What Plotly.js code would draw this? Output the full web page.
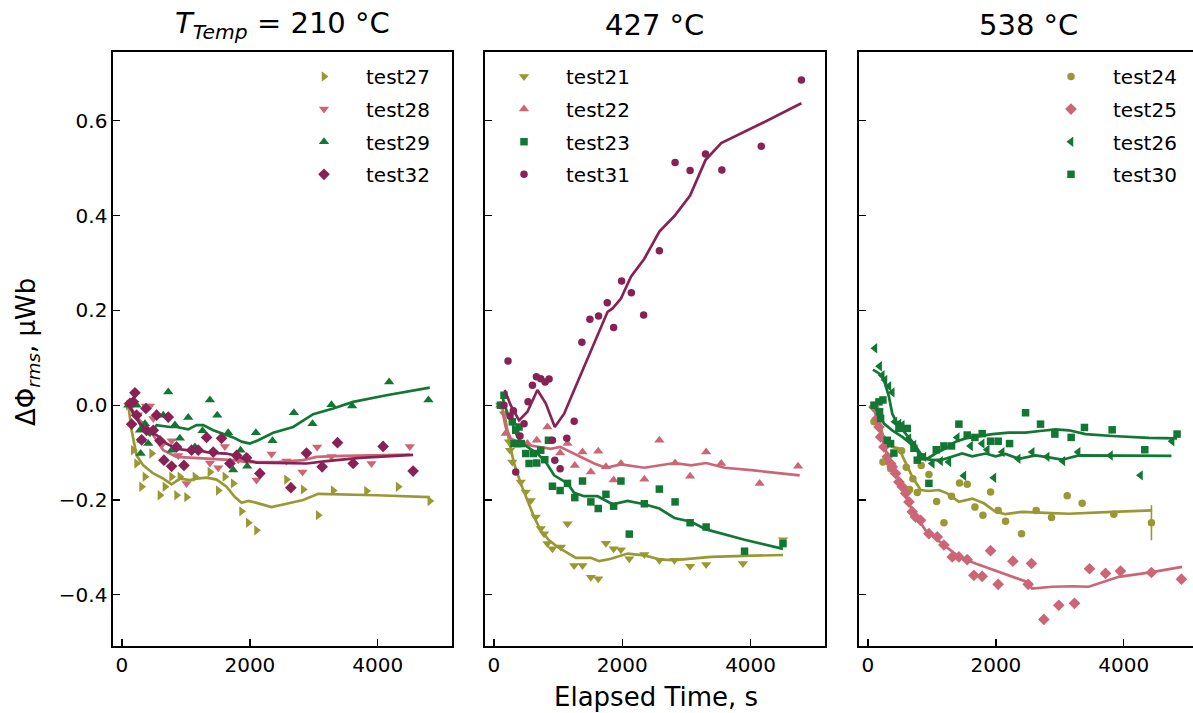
<!DOCTYPE html>
<html><head><meta charset="utf-8">
<script src="https://cdn.plot.ly/plotly-3.0.1.min.js"></script>
<style>html,body{margin:0;padding:0;overflow:hidden;background:#fff}</style>
</head><body><div id="chart" style="width:1200px;height:713px"></div>
<script>
// ---------- tick labels ----------
const xTickVals = [0, 2000, 4000];
const xTickText = ['0', '2000', '4000'];
const yTickVals = [-0.4, -0.2, 0.0, 0.2, 0.4, 0.6];
const yTickText = ['\u22120.4', '\u22120.2', '0.0', '0.2', '0.4', '0.6'];

// ---------- panel titles ----------
const panelTitles = ['<i>T</i><sub><i>Temp</i></sub> = 210 °C', '427 °C', '538 °C'];

// ---------- 210 °C ----------
const test27_t = [100,177,229,307,359,464,594,672,776,854,906,1010,1141,1375,1505,1609,1740,1870,1974,2104,2573,2833,3068,3302,3823,4318,4813];
const test27_v = [0.0,-0.095,-0.123,-0.172,-0.151,-0.102,-0.190,-0.172,-0.151,-0.190,-0.151,-0.194,-0.151,-0.141,-0.180,-0.151,-0.165,-0.224,-0.248,-0.264,-0.157,-0.178,-0.232,-0.180,-0.181,-0.172,-0.202];
const test27_fit_t = [99,151,229,333,490,646,776,906,1063,1167,1323,1479,1635,1766,1870,1974,2104,2339,2573,2833,3068,3458,3979,4813];
const test27_fit_v = [0.0,-0.053,-0.106,-0.127,-0.144,-0.155,-0.167,-0.155,-0.158,-0.155,-0.153,-0.157,-0.172,-0.194,-0.206,-0.202,-0.206,-0.215,-0.208,-0.200,-0.187,-0.188,-0.190,-0.194];

const test28_t = [100,250,375,438,490,620,776,880,1010,1375,1505,1609,1818,2104,2339,2573,2823,3052,3276,3901,4500];
const test28_v = [0.0,-0.020,-0.002,-0.002,-0.028,-0.084,-0.075,-0.106,-0.165,-0.122,-0.132,-0.087,-0.115,-0.158,-0.103,-0.118,-0.141,-0.088,-0.108,-0.123,-0.087];
const test28_fit_t = [99,229,438,646,854,1167,1479,1740,1948,2417,2833,3042,3458,4500];
const test28_fit_v = [0.004,-0.025,-0.053,-0.095,-0.109,-0.111,-0.113,-0.116,-0.120,-0.120,-0.116,-0.109,-0.107,-0.104];

const test29_t = [100,229,281,292,307,359,411,542,646,724,776,828,906,1036,1141,1260,1375,1490,1661,1740,1854,1958,2094,2354,2688,2979,3276,3599,4177,4792];
const test29_v = [0.0,0.0,-0.053,-0.102,-0.074,-0.039,-0.081,-0.018,-0.021,0.028,-0.095,-0.042,-0.070,-0.026,-0.088,-0.054,0.011,-0.021,-0.058,-0.137,-0.095,-0.129,-0.058,-0.075,-0.016,-0.039,0.001,-0.002,0.049,0.011];
const test29_fit_t = [99,229,333,438,542,750,854,1036,1167,1271,1427,1583,1740,1870,2000,2130,2365,2677,2990,3302,3615,4135,4813];
const test29_fit_v = [0.0,-0.025,-0.053,-0.063,-0.042,-0.046,-0.046,-0.051,-0.042,-0.042,-0.053,-0.061,-0.068,-0.077,-0.081,-0.074,-0.058,-0.046,-0.019,-0.007,0.007,0.021,0.037];

const test32_t = [125,151,177,203,229,307,375,385,490,542,594,656,724,776,854,969,1089,1193,1323,1427,1557,1688,1792,1948,2156,2641,2885,3130,3370,3615,4083,4552];
const test32_v = [0.004,-0.040,0.007,0.026,-0.021,-0.073,-0.007,-0.053,-0.053,-0.021,-0.075,-0.116,-0.025,-0.129,-0.088,-0.127,-0.095,-0.095,-0.068,-0.099,-0.070,-0.123,-0.106,-0.111,-0.144,-0.174,-0.101,-0.130,-0.079,-0.123,-0.087,-0.139];
const test32_fit_t = [99,177,281,385,542,698,854,1010,1167,1323,1479,1635,1792,1948,2104,2417,2885,3198,3719,4552];
const test32_fit_v = [0.004,-0.018,-0.039,-0.053,-0.063,-0.081,-0.092,-0.095,-0.094,-0.099,-0.101,-0.102,-0.107,-0.116,-0.121,-0.122,-0.123,-0.118,-0.111,-0.105];

// ---------- 427 °C ----------
const test21_t = [100,156,234,250,286,417,495,573,651,729,781,833,911,1042,1146,1250,1380,1510,1625,1745,1865,1979,2109,2344,2578,2813,3057,3307,3880,4505];
const test21_v = [0.0,-0.018,-0.077,-0.095,-0.120,-0.162,-0.183,-0.201,-0.236,-0.260,-0.271,-0.292,-0.303,-0.299,-0.250,-0.338,-0.338,-0.363,-0.366,-0.291,-0.303,-0.305,-0.324,-0.315,-0.327,-0.327,-0.340,-0.336,-0.334,-0.284];
const test21_fit_t = [130,182,234,313,417,521,625,729,859,990,1146,1276,1510,1641,1823,2083,2344,2604,2813,3073,3385,3906,4505];
const test21_fit_v = [-0.007,-0.032,-0.074,-0.123,-0.165,-0.201,-0.236,-0.264,-0.285,-0.299,-0.312,-0.322,-0.322,-0.329,-0.324,-0.313,-0.317,-0.326,-0.327,-0.324,-0.320,-0.318,-0.316];

const test22_t = [100,182,521,667,833,1031,1146,1260,1380,1510,1625,1745,1865,1979,2344,2578,2823,3057,3307,3542,4141,4740];
const test22_v = [0.0,-0.060,-0.081,-0.074,-0.046,-0.101,-0.081,-0.127,-0.099,-0.141,-0.097,-0.130,-0.158,-0.123,-0.156,-0.074,-0.122,-0.150,-0.099,-0.123,-0.165,-0.129];
const test22_fit_t = [130,182,260,365,521,677,885,1031,1198,1406,1563,1745,1979,2344,2813,3073,3307,3594,4010,4766];
const test22_fit_v = [-0.011,-0.046,-0.070,-0.077,-0.084,-0.088,-0.092,-0.088,-0.099,-0.113,-0.123,-0.132,-0.125,-0.132,-0.122,-0.127,-0.122,-0.132,-0.137,-0.148];

const test23_t = [100,156,286,313,339,365,391,427,495,547,615,667,729,792,849,911,1031,1146,1260,1380,1510,1625,1745,1865,1979,2109,2344,2578,2823,3057,3307,3906,4505];
const test23_v = [0.0,0.021,-0.035,-0.081,-0.053,-0.081,-0.046,-0.081,-0.102,-0.123,-0.102,-0.122,-0.095,-0.115,-0.074,-0.171,-0.180,-0.165,-0.195,-0.160,-0.204,-0.218,-0.188,-0.213,-0.160,-0.272,-0.208,-0.177,-0.204,-0.248,-0.257,-0.308,-0.292];
const test23_fit_t = [130,208,286,365,443,521,677,807,938,1146,1250,1406,1615,1849,2083,2344,2578,2813,3073,3307,3906,4505];
const test23_fit_v = [0.018,-0.018,-0.039,-0.067,-0.081,-0.088,-0.102,-0.120,-0.148,-0.165,-0.185,-0.192,-0.192,-0.209,-0.202,-0.209,-0.218,-0.238,-0.246,-0.262,-0.284,-0.303];

const test31_t = [156,219,250,302,339,406,469,531,599,661,729,797,859,911,948,1031,1135,1250,1370,1495,1630,1766,1865,1990,2141,2333,2578,2823,3057,3297,3552,4167,4792];
const test31_v = [0.0,0.093,-0.023,-0.012,-0.141,-0.065,-0.039,0.007,0.042,0.060,0.056,0.049,0.055,-0.074,-0.116,-0.134,-0.070,-0.034,0.133,0.181,0.188,0.216,0.164,0.262,0.237,0.190,0.326,0.512,0.495,0.530,0.496,0.546,0.686];
const test31_fit_t = [167,260,391,521,677,807,948,1094,1250,1380,1563,1771,1849,1979,2135,2344,2578,2813,3057,3297,3542,4167,4792];
const test31_fit_v = [0.032,0.0,-0.032,-0.014,0.032,0.004,-0.046,-0.018,0.032,0.074,0.130,0.197,0.204,0.225,0.271,0.309,0.366,0.399,0.442,0.517,0.553,0.594,0.637];

// ---------- 538 °C ----------
const test24_t = [94,234,354,526,599,651,703,771,833,953,1073,1188,1307,1432,1552,1672,1797,1917,2036,2151,2401,2630,2870,3115,3349,3844,4432];
const test24_v = [-0.035,-0.120,-0.134,-0.096,-0.131,-0.178,-0.155,-0.184,-0.127,-0.146,-0.203,-0.248,-0.192,-0.164,-0.167,-0.215,-0.232,-0.183,-0.222,-0.245,-0.271,-0.222,-0.237,-0.191,-0.207,-0.230,-0.248];
const test24_err = [0,0,0,0,0,0,0,0,0,0,0,0,0,0,0,0,0,0,0,0,0,0,0,0,0,0,0.037];
const test24_fit_t = [94,172,250,380,484,589,693,823,953,1109,1240,1422,1630,1813,1995,2151,2411,2776,3141,3818,4443];
const test24_fit_v = [0.0,-0.028,-0.074,-0.088,-0.091,-0.123,-0.151,-0.179,-0.181,-0.179,-0.186,-0.204,-0.197,-0.207,-0.225,-0.230,-0.225,-0.227,-0.229,-0.225,-0.222];

const test25_t = [94,146,172,198,250,302,354,380,432,484,536,589,641,693,745,823,953,1083,1188,1318,1422,1552,1656,1786,1917,2036,2266,2505,2557,2750,2984,3229,3464,3714,3948,4432,4901];
const test25_v = [-0.004,-0.028,-0.046,-0.067,-0.088,-0.109,-0.123,-0.130,-0.144,-0.162,-0.172,-0.186,-0.204,-0.225,-0.236,-0.243,-0.271,-0.278,-0.295,-0.320,-0.320,-0.326,-0.359,-0.361,-0.307,-0.378,-0.329,-0.378,-0.334,-0.452,-0.422,-0.418,-0.345,-0.355,-0.350,-0.353,-0.367];
const test25_fit_t = [94,172,276,380,536,693,901,1161,1422,1682,1943,2255,2489,2567,2880,3193,3453,3922,4443,4911];
const test25_fit_v = [-0.007,-0.046,-0.095,-0.130,-0.172,-0.222,-0.264,-0.292,-0.320,-0.334,-0.347,-0.362,-0.373,-0.387,-0.383,-0.382,-0.383,-0.362,-0.352,-0.341];

const test26_t = [109,182,224,266,328,380,422,484,536,641,719,875,1005,1135,1266,1396,1500,1604,1786,1865,1969,2099,2349,2568,2802,3047,3286,3792,4261,4755];
const test26_v = [0.120,0.082,0.063,0.053,0.040,0.027,-0.035,-0.039,-0.042,-0.070,-0.084,-0.109,-0.123,-0.118,-0.120,-0.068,-0.149,-0.086,-0.081,-0.094,-0.153,-0.099,-0.113,-0.099,-0.109,-0.118,-0.099,-0.106,-0.148,-0.076];
const test26_fit_t = [78,172,250,328,380,458,589,719,875,1031,1161,1318,1474,1630,1839,1995,2151,2359,2620,2828,3036,3297,3818,4745];
const test26_fit_v = [0.075,0.067,0.053,0.018,-0.018,-0.039,-0.060,-0.081,-0.113,-0.116,-0.115,-0.109,-0.102,-0.108,-0.102,-0.108,-0.103,-0.113,-0.106,-0.110,-0.115,-0.106,-0.106,-0.107];

const test30_t = [94,172,182,198,234,302,354,406,484,615,719,771,823,953,1068,1188,1307,1422,1552,1672,1786,1917,2036,2214,2464,2698,2922,3177,3385,3818,4328,4833];
const test30_v = [0.0,0.007,-0.014,-0.028,0.011,-0.074,-0.081,-0.101,-0.049,-0.049,-0.091,-0.116,-0.109,-0.165,-0.094,-0.086,-0.086,-0.040,-0.063,-0.068,-0.060,-0.076,-0.076,-0.081,-0.016,-0.040,-0.061,-0.068,-0.047,-0.052,-0.094,-0.061];
const test30_fit_t = [94,172,250,380,536,693,823,927,1057,1214,1370,1526,1682,1943,2203,2464,2724,2932,3141,3401,3818,4391,4833];
const test30_fit_v = [0.0,-0.018,-0.039,-0.053,-0.067,-0.084,-0.106,-0.113,-0.102,-0.091,-0.077,-0.070,-0.067,-0.061,-0.058,-0.058,-0.054,-0.051,-0.053,-0.061,-0.065,-0.069,-0.070];

// ---------- styling ----------
const OLIVE = '#999933', ROSE = '#CC6677', GREEN = '#117733', WINE = '#882255';
const FONT = 'DejaVu Sans, Liberation Sans, sans-serif';

const series = [
  // panel, name, t, v, fit_t, fit_v, color, symbol, size, err
  [1,'test27',test27_t,test27_v,test27_fit_t,test27_fit_v,OLIVE,'triangle-right',9,null],
  [1,'test28',test28_t,test28_v,test28_fit_t,test28_fit_v,ROSE,'triangle-down',9,null],
  [1,'test29',test29_t,test29_v,test29_fit_t,test29_fit_v,GREEN,'triangle-up',9,null],
  [1,'test32',test32_t,test32_v,test32_fit_t,test32_fit_v,WINE,'diamond',9,null],
  [2,'test21',test21_t,test21_v,test21_fit_t,test21_fit_v,OLIVE,'triangle-down',9,null],
  [2,'test22',test22_t,test22_v,test22_fit_t,test22_fit_v,ROSE,'triangle-up',9,null],
  [2,'test23',test23_t,test23_v,test23_fit_t,test23_fit_v,GREEN,'square',7.5,null],
  [2,'test31',test31_t,test31_v,test31_fit_t,test31_fit_v,WINE,'circle',7.5,null],
  [3,'test24',test24_t,test24_v,test24_fit_t,test24_fit_v,OLIVE,'circle',7.5,test24_err],
  [3,'test25',test25_t,test25_v,test25_fit_t,test25_fit_v,ROSE,'diamond',9,null],
  [3,'test26',test26_t,test26_v,test26_fit_t,test26_fit_v,GREEN,'triangle-left',9,null],
  [3,'test30',test30_t,test30_v,test30_fit_t,test30_fit_v,GREEN,'square',7.5,null]
];

const traces = [];
series.forEach(s => {
  const [p, name, t, v, ft, fv, col, sym, sz, err] = s;
  const xa = p === 1 ? 'x' : 'x' + p, ya = p === 1 ? 'y' : 'y' + p;
  const lg = p === 1 ? 'legend' : 'legend' + p;
  const tr = {
    type: 'scatter', mode: 'markers', x: t, y: v, name: name, xaxis: xa, yaxis: ya,
    legend: lg, legendgroup: name, cliponaxis: true,
    marker: {color: col, symbol: sym, size: sz, line: {width: 0}}
  };
  if (err) tr.error_y = {type: 'data', array: err, visible: true, color: col, thickness: 1.6, width: 0};
  traces.push(tr);
  traces.push({
    type: 'scatter', mode: 'lines', x: ft, y: fv, xaxis: xa, yaxis: ya, showlegend: false,
    legendgroup: name, line: {color: col, width: 2.7}, hoverinfo: 'skip'
  });
});

const W = 1200, H = 713;
const px = v => v / W, py = v => 1 - v / H;
const yDom = [py(646), py(52)];
const xDoms = [[px(113), px(452)], [px(485), px(825)], [px(859), px(1198)]];

function xAx(dom, anchor) {
  return {domain: dom, anchor: anchor, range: [-140, 5160], tickmode: 'array', tickvals: xTickVals, ticktext: xTickText,
    ticks: 'inside', ticklen: 7, tickwidth: 1.3, tickcolor: '#000', showline: true, linecolor: '#000', linewidth: 1.6,
    mirror: true, showgrid: false, zeroline: false, tickfont: {family: FONT, size: 20, color: '#000'}};
}
function yAx(anchor, labels) {
  return {domain: yDom, anchor: anchor, range: [-0.508, 0.745], tickmode: 'array', tickvals: yTickVals, ticktext: yTickText,
    showticklabels: labels, ticks: 'inside', ticklen: 7, tickwidth: 1.3, tickcolor: '#000', showline: true, linecolor: '#000',
    linewidth: 1.6, mirror: true, showgrid: false, zeroline: false, tickfont: {family: FONT, size: 20, color: '#000'}};
}
function legendAt(xLeft, yTop) {
  return {x: px(xLeft), xanchor: 'left', y: py(yTop), yanchor: 'top', bgcolor: 'rgba(0,0,0,0)', borderwidth: 0,
    font: {family: FONT, size: 20, color: '#000'}, itemwidth: 74, traceorder: 'grouped', tracegroupgap: 3.6};
}

const annotations = [];
[282, 655, 1028].forEach((cx, i) => annotations.push({
  text: panelTitles[i], x: px(cx), y: py(25), xref: 'paper', yref: 'paper', xanchor: 'center', yanchor: 'middle',
  showarrow: false, font: {family: FONT, size: 29, color: '#000'}
}));
annotations.push({text: 'Elapsed Time, s', x: px(656), y: py(697), xref: 'paper', yref: 'paper', xanchor: 'center',
  yanchor: 'middle', showarrow: false, font: {family: FONT, size: 26, color: '#000'}});
annotations.push({text: '\u0394\u03A6<sub><i>rms</i></sub>, \u03BCWb', x: px(27), y: py(352), xref: 'paper', yref: 'paper',
  xanchor: 'center', yanchor: 'middle', textangle: -90, showarrow: false, font: {family: FONT, size: 26, color: '#000'}});

const layout = {
  width: W, height: H, margin: {l: 0, r: 0, t: 0, b: 0}, paper_bgcolor: '#fff', plot_bgcolor: '#fff',
  showlegend: true,
  xaxis: xAx(xDoms[0], 'y'), yaxis: yAx('x', true),
  xaxis2: xAx(xDoms[1], 'y2'), yaxis2: yAx('x2', false),
  xaxis3: xAx(xDoms[2], 'y3'), yaxis3: yAx('x3', false),
  legend: legendAt(282, 57), legend2: legendAt(482, 57), legend3: legendAt(1029, 57),
  annotations: annotations
};

Plotly.newPlot('chart', traces, layout, {displayModeBar: false, staticPlot: true});
</script></body></html>
